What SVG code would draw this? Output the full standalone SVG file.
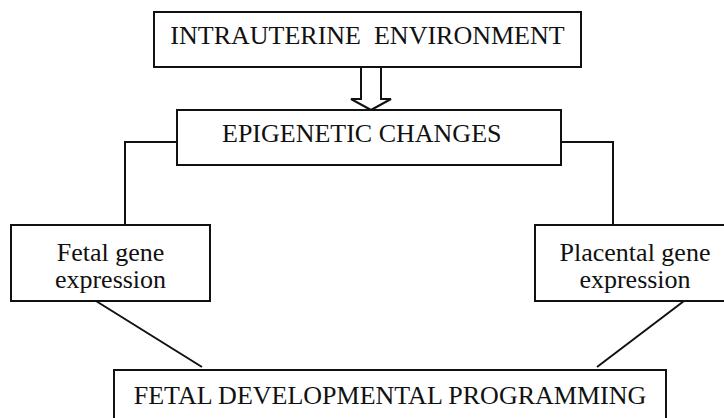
<svg xmlns="http://www.w3.org/2000/svg" width="724" height="418" viewBox="0 0 724 418">
<style>
.box{fill:#fff;stroke:#111;stroke-width:2}
.ln{fill:none;stroke:#111;stroke-width:2}
.t{font-family:"Liberation Serif","Times New Roman",serif;font-size:26px;fill:#111}
.m{text-anchor:middle}
</style>
<rect width="724" height="418" fill="#fff"/>
<g id="connectors">
<polyline class="ln" points="177,142 125,142 125,225"/>
<polyline class="ln" points="561,142 613,142 613,225"/>
<polygon class="ln" fill="#fff" points="361,67 361,99 351,99 371,110 391,99 381,99 381,67"/>
<line class="ln" x1="96" y1="301" x2="202" y2="367"/>
<line class="ln" x1="684" y1="301" x2="597" y2="367"/>
</g>
<g id="intrauterine">
<rect class="box" x="154" y="12" width="427" height="55"/>
<text class="t m" x="367.5" y="44" xml:space="preserve">INTRAUTERINE  ENVIRONMENT</text>
</g>
<g id="epigenetic">
<rect class="box" x="177" y="110" width="384" height="55"/>
<text class="t" x="222" y="142">EPIGENETIC CHANGES</text>
</g>
<g id="fetal">
<rect class="box" x="11" y="225" width="199" height="76"/>
<text class="t m" x="110.5" y="261">Fetal gene</text>
<text class="t m" x="110.5" y="288">expression</text>
</g>
<g id="placental">
<rect class="box" x="535" y="225" width="200" height="76"/>
<text class="t m" x="635" y="261">Placental gene</text>
<text class="t m" x="635" y="288">expression</text>
</g>
<g id="programming">
<rect class="box" x="114" y="370" width="552" height="60"/>
<text class="t m" x="390" y="404">FETAL DEVELOPMENTAL PROGRAMMING</text>
</g>
</svg>
